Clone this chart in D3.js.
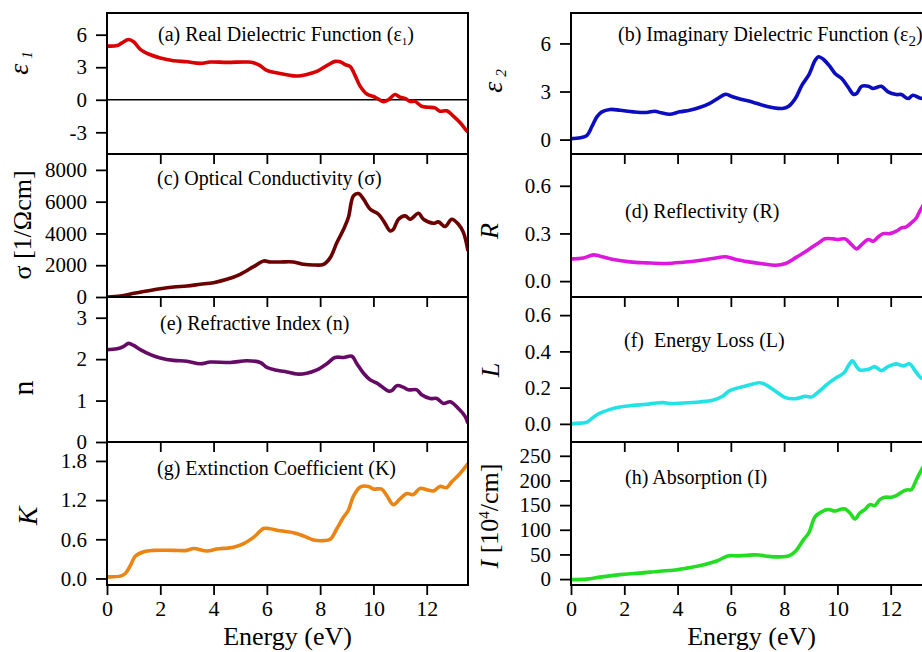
<!DOCTYPE html>
<html>
<head>
<meta charset="utf-8">
<script src="https://cdn.jsdelivr.net/npm/d3@7"></script>
<style>
  body { margin: 0; background: #fff; }
  text { font-family: "Liberation Serif", "Times New Roman", serif; fill: #000; }
</style>
</head>
<body>
<svg></svg>
<script>
// Datos leídos a ojo de la figura: [energía (eV), valor]
var energyTicks = [0, 2, 4, 6, 8, 10, 12];

var eps1 = [[0,4.95],[0.38,5.0],[0.56,5.25],[0.81,5.55],[1.0,5.35],[1.25,4.65],[1.63,4.15],[2.0,3.85],
  [2.5,3.6],[3.0,3.5],[3.5,3.36],[3.88,3.48],[4.5,3.45],[5.25,3.48],[5.5,3.42],[5.75,3.15],[6.0,2.7],
  [6.4,2.46],[6.75,2.31],[7.1,2.19],[7.5,2.34],[7.9,2.64],[8.25,3.15],[8.56,3.54],[8.75,3.51],[8.94,3.24],
  [9.13,3.06],[9.31,2.25],[9.5,1.26],[9.75,0.54],[10.0,0.3],[10.19,0.06],[10.38,-0.18],[10.56,0.0],
  [10.81,0.48],[11.0,0.24],[11.19,0.12],[11.38,-0.15],[11.56,-0.15],[11.81,-0.6],[12.06,-0.69],
  [12.31,-0.75],[12.5,-1.05],[12.75,-1.02],[13.0,-1.5],[13.25,-2.1],[13.5,-2.85],[13.55,-2.95]];

var eps2 = [[0,0.06],[0.35,0.12],[0.6,0.27],[0.78,0.8],[0.97,1.42],[1.16,1.73],[1.47,1.88],[1.84,1.83],
  [2.34,1.73],[2.83,1.69],[3.14,1.77],[3.39,1.67],[3.7,1.58],[4.07,1.73],[4.45,1.83],[4.82,2.0],
  [5.19,2.25],[5.5,2.56],[5.81,2.83],[6.06,2.67],[6.43,2.5],[6.8,2.35],[7.18,2.15],[7.55,2.0],[7.93,1.94],
  [8.17,2.08],[8.42,2.56],[8.67,3.4],[8.92,4.02],[9.17,4.96],[9.29,5.17],[9.48,5.0],[9.73,4.54],[9.91,4.13],
  [10.16,3.81],[10.41,3.25],[10.6,2.83],[10.72,2.88],[10.91,3.33],[11.16,3.33],[11.34,3.19],[11.47,3.25],
  [11.65,3.33],[11.9,2.98],[12.21,2.81],[12.4,2.81],[12.65,2.56],[12.83,2.77],[13.09,2.6],[13.3,2.55],[13.55,2.5]];

var sigma = [[0,0],[0.5,63],[1.0,231],[1.5,378],[2.0,525],[2.5,630],[3.0,693],[3.5,798],[4.0,903],[4.5,1113],
  [5.0,1428],[5.5,1911],[5.88,2268],[6.13,2205],[6.5,2205],[7.0,2205],[7.38,2058],[7.75,2016],[8.13,2058],
  [8.38,2479],[8.63,3424],[8.88,4265],[9.06,5000],[9.25,6366],[9.44,6512],[9.63,6155],[9.88,5525],
  [10.19,5210],[10.38,4790],[10.63,4160],[10.75,4265],[10.94,4895],[11.19,5105],[11.38,4895],[11.69,5273],
  [11.88,4895],[12.25,4643],[12.44,4727],[12.69,4433],[12.94,4895],[13.19,4580],[13.38,4055],[13.55,2900]];

var reflect = [[0,0.14],[0.47,0.146],[0.84,0.165],[1.09,0.157],[1.59,0.136],[2.21,0.121],[2.83,0.115],
  [3.58,0.111],[4.2,0.119],[4.82,0.13],[5.32,0.142],[5.81,0.153],[6.19,0.136],[6.68,0.121],[7.18,0.109],
  [7.68,0.1],[8.05,0.111],[8.42,0.146],[8.92,0.199],[9.29,0.24],[9.53,0.266],[9.85,0.266],[10.04,0.262],
  [10.29,0.266],[10.53,0.23],[10.72,0.203],[10.91,0.23],[11.16,0.262],[11.34,0.251],[11.53,0.278],
  [11.71,0.299],[11.96,0.299],[12.21,0.314],[12.4,0.335],[12.58,0.341],[12.77,0.366],[12.96,0.397],
  [13.09,0.44],[13.3,0.5],[13.55,0.56]];

var refrac = [[0,2.23],[0.38,2.25],[0.63,2.31],[0.81,2.38],[1.0,2.33],[1.25,2.23],[1.63,2.11],[2.0,2.03],
  [2.5,1.97],[3.0,1.95],[3.5,1.89],[3.88,1.93],[4.63,1.92],[5.25,1.96],[5.75,1.92],[6.0,1.8],[6.38,1.73],
  [6.75,1.69],[7.13,1.64],[7.5,1.66],[7.88,1.74],[8.25,1.89],[8.56,2.04],[8.88,2.04],[9.19,2.07],[9.38,1.89],
  [9.63,1.66],[9.88,1.5],[10.13,1.42],[10.31,1.34],[10.56,1.23],[10.69,1.24],[10.88,1.36],[11.13,1.32],
  [11.31,1.26],[11.63,1.26],[11.81,1.14],[12.13,1.05],[12.38,1.05],[12.63,0.93],[12.88,0.97],[13.19,0.81],
  [13.44,0.62],[13.55,0.45]];

var eloss = [[0,0],[0.35,0.004],[0.6,0.01],[0.84,0.037],[1.09,0.059],[1.47,0.08],[1.84,0.093],[2.34,0.102],
  [2.83,0.108],[3.2,0.115],[3.45,0.117],[3.7,0.112],[4.2,0.115],[4.82,0.121],[5.32,0.13],[5.69,0.152],
  [5.94,0.182],[6.31,0.2],[6.68,0.214],[7.06,0.227],[7.3,0.217],[7.68,0.18],[8.05,0.145],[8.42,0.139],
  [8.8,0.152],[9.04,0.149],[9.29,0.177],[9.66,0.223],[9.98,0.257],[10.23,0.279],[10.41,0.32],[10.56,0.348],
  [10.72,0.316],[10.84,0.297],[11.16,0.301],[11.4,0.316],[11.65,0.294],[11.9,0.316],[12.21,0.331],
  [12.46,0.32],[12.71,0.331],[12.9,0.297],[13.09,0.26],[13.3,0.24],[13.55,0.22]];

var extinc = [[0,0.025],[0.5,0.036],[0.69,0.076],[0.88,0.2],[1.06,0.34],[1.38,0.41],[1.75,0.43],[2.5,0.43],
  [3.0,0.43],[3.25,0.46],[3.75,0.42],[4.13,0.45],[4.75,0.48],[5.13,0.535],[5.5,0.63],[5.88,0.765],
  [6.06,0.765],[6.5,0.73],[7.0,0.7],[7.38,0.65],[7.75,0.59],[8.13,0.58],[8.38,0.6],[8.63,0.765],[8.88,0.94],
  [9.06,1.045],[9.25,1.26],[9.5,1.4],[9.81,1.41],[10.0,1.37],[10.31,1.37],[10.5,1.27],[10.75,1.13],
  [11.0,1.22],[11.25,1.3],[11.5,1.285],[11.75,1.38],[12.0,1.36],[12.25,1.34],[12.5,1.41],[12.75,1.39],
  [12.94,1.48],[13.19,1.58],[13.55,1.76]];

var absorp = [[0,-1],[0.6,0],[1.09,4],[1.84,9],[2.58,12],[3.33,16],[3.83,18],[4.32,22],[4.82,27],[5.32,34],
  [5.57,39],[5.88,47],[6.31,47],[6.8,49],[7.05,49],[7.42,46],[7.8,45],[8.17,47],[8.42,56],[8.73,80],
  [8.92,93],[9.17,127],[9.42,137],[9.66,141],[9.91,138],[10.16,142],[10.29,142],[10.47,134],[10.66,122],
  [10.84,134],[11.03,141],[11.22,151],[11.4,149],[11.59,161],[11.78,166],[12.03,166],[12.21,169],
  [12.46,178],[12.65,181],[12.77,181],[12.96,201],[13.09,215],[13.3,235],[13.55,255]];

// marcas de los ejes Y
var ticksEps1 = [-3, 0, 3, 6];
var ticksEps2 = [0, 3, 6];
var ticksSigma = [0, 2000, 4000, 6000, 8000];
var ticksR = [0, 0.3, 0.6];
var ticksN = [0, 1, 2, 3];
var ticksL = [0, 0.2, 0.4, 0.6];
var ticksK = [0, 0.6, 1.2, 1.8];
var ticksI = [0, 50, 100, 150, 200, 250];

var W = 922, H = 652;
var svg = d3.select("svg").attr("width", W).attr("height", H);

// bordes de las filas y columnas
var rowEdges = [13, 154, 297, 442, 585];
var colX = [107, 571];
var plotW = 361;

var fix1 = function (d) { return d.toFixed(1); };
var plain = function (d) { return String(d); };

// título: texto, subíndice, cierre
var panels = [
  { col: 0, row: 0, data: eps1, dom: [-5, 8], ticks: ticksEps1, fmt: plain, color: "#d80000",
    title: ["(a) Real Dielectric Function (ε", "1", ")"], sub: 11, tx: 158, ty: 41, zero: true },
  { col: 1, row: 0, data: eps2, dom: [-0.9, 7.9], ticks: ticksEps2, fmt: plain, color: "#0c0cc0",
    title: ["(b) Imaginary Dielectric Function (ε", "2", ")"], sub: 15, tx: 618, ty: 41 },
  { col: 0, row: 1, data: sigma, dom: [0, 9000], ticks: ticksSigma, fmt: plain, color: "#6a0000",
    title: ["(c) Optical Conductivity (σ)"], tx: 157, ty: 185 },
  { col: 1, row: 1, data: reflect, dom: [-0.1, 0.8], ticks: ticksR, fmt: fix1, color: "#dd18dd",
    title: ["(d) Reflectivity (R)"], tx: 625, ty: 218 },
  { col: 0, row: 2, data: refrac, dom: [0, 3.5], ticks: ticksN, fmt: plain, color: "#650a65",
    title: ["(e) Refractive Index (n)"], tx: 160, ty: 330 },
  { col: 1, row: 2, data: eloss, dom: [-0.1, 0.7], ticks: ticksL, fmt: fix1, color: "#22e2e6",
    title: ["(f)  Energy Loss (L)"], tx: 624, ty: 347 },
  { col: 0, row: 3, data: extinc, dom: [-0.1, 2.09], ticks: ticksK, fmt: fix1, color: "#ea8412",
    title: ["(g) Extinction Coefficient (K)"], tx: 157, ty: 475 },
  { col: 1, row: 3, data: absorp, dom: [-12, 278], ticks: ticksI, fmt: plain, color: "#22dd22",
    title: ["(h) Absorption (I)"], tx: 625, ty: 484 }
];

panels.forEach(function (p, i) {
  var x0 = colX[p.col], top = rowEdges[p.row], bot = rowEdges[p.row + 1];
  var x = d3.scaleLinear().domain([0, 13.55]).range([x0, x0 + plotW]);
  var y = d3.scaleLinear().domain(p.dom).range([bot, top]);

  svg.append("clipPath").attr("id", "clip" + i)
    .append("rect").attr("x", x0).attr("y", top).attr("width", plotW).attr("height", bot - top);

  if (p.zero) {
    svg.append("line")
      .attr("x1", x0).attr("x2", x0 + plotW)
      .attr("y1", y(0)).attr("y2", y(0))
      .attr("stroke", "#000").attr("stroke-width", 1.6);
  }

  var line = d3.line()
    .x(function (d) { return x(d[0]); })
    .y(function (d) { return y(d[1]); })
    .curve(d3.curveCatmullRom.alpha(0.5));

  svg.append("path")
    .datum(p.data)
    .attr("clip-path", "url(#clip" + i + ")")
    .attr("fill", "none")
    .attr("stroke", p.color)
    .attr("stroke-width", 3.6)
    .attr("stroke-linejoin", "round")
    .attr("d", line);

  // eje Y (hacia afuera)
  var gy = svg.append("g")
    .attr("transform", "translate(" + x0 + ",0)")
    .call(d3.axisLeft(y).tickValues(p.ticks).tickFormat(p.fmt).tickSize(11).tickPadding(9));
  gy.select(".domain").remove();
  gy.selectAll("line").attr("stroke-width", 1.8);
  gy.selectAll("text").attr("font-size", 21);

  // marcas superiores hacia adentro
  if (p.row > 0) {
    var gt = svg.append("g")
      .attr("transform", "translate(0," + top + ")")
      .call(d3.axisBottom(x).tickValues(energyTicks.slice(1)).tickFormat("").tickSize(10));
    gt.select(".domain").remove();
    gt.selectAll("line").attr("stroke-width", 1.8);
  }

  // eje X inferior con etiquetas
  if (p.row === 3) {
    var gb = svg.append("g")
      .attr("transform", "translate(0," + bot + ")")
      .call(d3.axisBottom(x).tickValues(energyTicks).tickFormat(plain).tickSize(10).tickPadding(5));
    gb.select(".domain").remove();
    gb.selectAll("line").attr("stroke-width", 1.8);
    gb.selectAll("text").attr("font-size", 22);

    svg.append("text")
      .attr("x", x0 + plotW / 2).attr("y", 645)
      .attr("text-anchor", "middle")
      .attr("font-size", 26)
      .text("Energy (eV)");
  }

  // marco
  svg.append("rect")
    .attr("x", x0).attr("y", top).attr("width", plotW).attr("height", bot - top)
    .attr("fill", "none").attr("stroke", "#000").attr("stroke-width", 2);

  // título del panel
  var t = svg.append("text")
    .attr("x", p.tx).attr("y", p.ty)
    .attr("font-size", 20)
    .style("white-space", "pre");
  t.append("tspan").text(p.title[0]);
  if (p.title.length > 1) {
    var dy = p.sub > 12 ? 5 : 4;
    t.append("tspan").text(p.title[1]).attr("font-size", p.sub).attr("dy", dy);
    t.append("tspan").text(p.title[2]).attr("dy", -dy);
  }
});

// títulos de los ejes Y (rotados)
function yLabel(cx, cy, size, parts) {
  var t = svg.append("text")
    .attr("transform", "translate(" + cx + "," + cy + ") rotate(-90)")
    .attr("text-anchor", "middle")
    .attr("font-size", size);
  parts.forEach(function (part) {
    var s = t.append("tspan").text(part.t);
    if (part.i) s.attr("font-style", "italic");
    if (part.fs) s.attr("font-size", part.fs);
    if (part.dy) s.attr("dy", part.dy);
    if (part.dx) s.attr("dx", part.dx);
  });
  return t;
}

yLabel(28, 63, 28, [{ t: "ε", i: true }, { t: "1", i: true, fs: 15, dx: 5, dy: 4 }]);
yLabel(502, 81, 28, [{ t: "ε", i: true }, { t: "2", i: true, fs: 15, dx: 5, dy: 4 }]);
yLabel(31, 225, 26, [{ t: "σ [1/Ωcm]" }]);
yLabel(33, 388, 30, [{ t: "n" }]);
yLabel(37, 516, 28, [{ t: "K", i: true }]);
yLabel(498, 231, 26, [{ t: "R", i: true }]);
yLabel(499, 370, 26, [{ t: "L", i: true }]);
yLabel(498, 516, 26, [{ t: "I", i: true }, { t: " [10" }, { t: "4", fs: 15, dy: -9 }, { t: "/cm]", dy: 9 }]);
</script>
</body>
</html>
